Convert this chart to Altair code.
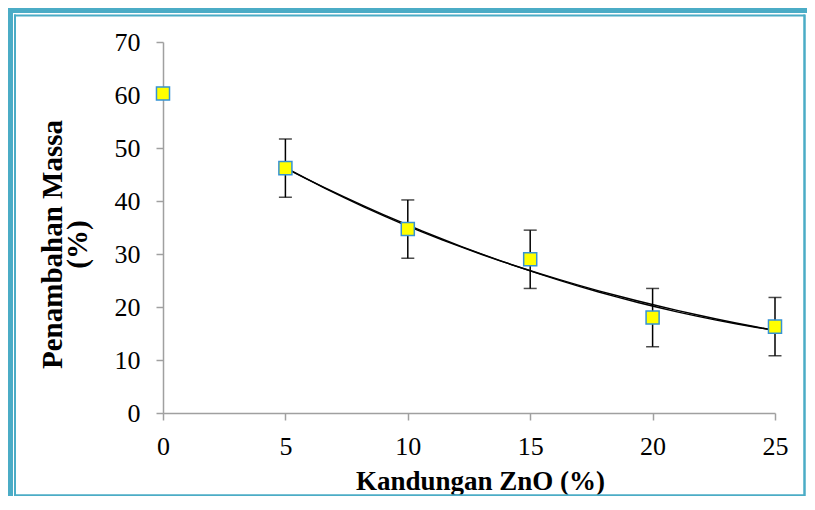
import altair as alt
import pandas as pd

# data
kandungan = [0, 5, 10, 15, 20, 25]
massa = [60.3, 46.2, 34.7, 29.0, 18.0, 16.3]
galat = [None, 5.5, 5.5, 5.5, 5.5, 5.5]

x_ticks = [0, 5, 10, 15, 20, 25]
y_ticks = [0, 10, 20, 30, 40, 50, 60, 70]

df = pd.DataFrame({"x": kandungan, "y": massa, "e": galat})
df["lo"] = df["y"] - df["e"]
df["hi"] = df["y"] + df["e"]

W, H = 612, 371
FRAME = "#4BACC6"
AXIS = "#A0A0A0"
SERIF = "Liberation Serif"

xs = alt.Scale(domain=[0, 25], nice=False)
ys = alt.Scale(domain=[0, 70], nice=False)

base = alt.Chart(df)

x_enc = alt.X(
    "x:Q", scale=xs,
    axis=alt.Axis(
        values=x_ticks, title="Kandungan ZnO (%)", grid=False, labelFlush=False,
        domainColor=AXIS, domainWidth=1.5, tickColor=AXIS, tickWidth=1.5, tickSize=7,
        labelFont=SERIF, labelFontSize=26, labelColor="black", labelPadding=13,
        titleFont=SERIF, titleFontSize=27, titleFontWeight="bold", titleColor="black",
        titleX=317, titleY=76, titleBaseline="alphabetic", titleAnchor="middle",
    ),
)
y_enc = alt.Y(
    "y:Q", scale=ys,
    axis=alt.Axis(
        values=y_ticks, title=["Penambahan Massa", "(%)"], grid=False, labelFlush=False,
        domainColor=AXIS, domainWidth=1.5, tickColor=AXIS, tickWidth=1.5, tickSize=7,
        labelFont=SERIF, labelFontSize=26, labelColor="black", labelPadding=16,
        titleFont=SERIF, titleFontSize=29, titleFontWeight="bold", titleColor="black",
        titleX=-102, titleY=202, titleAngle=270, titleBaseline="alphabetic",
        titleLineHeight=25, titleAlign="center",
    ),
)

trend_src = base.transform_filter(alt.datum.x >= 5)
trend_exp = trend_src.transform_regression("x", "y", method="exp").mark_line(
    color="black", strokeWidth=1.4
).encode(x=alt.X("x:Q", scale=xs), y=alt.Y("y:Q", scale=ys))
trend_poly = trend_src.transform_regression("x", "y", method="poly", order=2).mark_line(
    color="black", strokeWidth=1.4
).encode(x=alt.X("x:Q", scale=xs), y=alt.Y("y:Q", scale=ys))

err_df = base.transform_filter("isValid(datum.e)")
err_rule = err_df.mark_rule(color="black", strokeWidth=1.5).encode(
    x=alt.X("x:Q", scale=xs), y=alt.Y("lo:Q", scale=ys), y2="hi:Q"
)
cap_lo = err_df.mark_tick(color="black", thickness=1.5, size=13, orient="horizontal").encode(
    x=alt.X("x:Q", scale=xs), y=alt.Y("lo:Q", scale=ys)
)
cap_hi = err_df.mark_tick(color="black", thickness=1.5, size=13, orient="horizontal").encode(
    x=alt.X("x:Q", scale=xs), y=alt.Y("hi:Q", scale=ys)
)

points = base.mark_point(
    shape="square", size=170, filled=True, fill="#FFFF00", stroke="#3592D4",
    strokeWidth=1.5, opacity=1,
).encode(x=x_enc, y=y_enc)

one = alt.Chart(pd.DataFrame({"d": [0]}))
# decorative frame (pixel positions relative to the plot area)
frame = [
    one.mark_rule(color=FRAME, strokeWidth=5).encode(
        x=alt.value(-152.5), y=alt.value(-34), y2=alt.value(460)),
    one.mark_rule(color=FRAME, strokeWidth=5).encode(
        x=alt.value(-155), x2=alt.value(650), y=alt.value(-31.5)),
    one.mark_rule(color=FRAME, strokeWidth=2).encode(
        x=alt.value(-148), y=alt.value(-27.5), y2=alt.value(454)),
    one.mark_rule(color=FRAME, strokeWidth=2).encode(
        x=alt.value(-149), x2=alt.value(642), y=alt.value(-26.5)),
    one.mark_rule(color=FRAME, strokeWidth=2.5).encode(
        x=alt.value(641.5), y=alt.value(-27.5), y2=alt.value(455)),
    one.mark_rule(color=FRAME, strokeWidth=2.5).encode(
        x=alt.value(-149), x2=alt.value(642), y=alt.value(453.5)),
]

chart = alt.layer(
    *frame, err_rule, cap_lo, cap_hi, trend_exp, trend_poly, points
).properties(
    width=W, height=H,
    autosize=alt.AutoSizeParams(type="none"),
    padding={"left": 155, "top": 34, "right": 32, "bottom": 83},
    background="white",
).configure_view(stroke=None)

chart.save("out.html", embed_options={"renderer": "svg", "actions": False})
